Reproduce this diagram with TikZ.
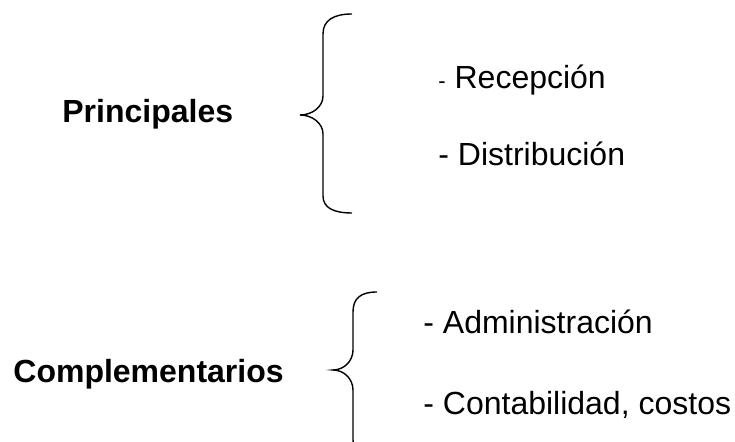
\documentclass[tikz,border=0pt]{standalone}
\usepackage{fontspec}
\setmainfont{Liberation Sans}
\usetikzlibrary{positioning}

\begin{document}
\begin{tikzpicture}[
  x=0.5pt, y=-0.5pt,
  label/.style={anchor=base west, inner sep=0pt, font=\fontsize{16}{19}\selectfont},
  title/.style={label, font=\fontsize{16}{19}\selectfont\bfseries},
  brace/.style={draw=black, line width=0.7pt},
]
  \useasboundingbox (0,0) rectangle (735,442);
  \clip (0,0) rectangle (735,442);

  % principales
  \node[title] (princ) at (62,123) {Principales};
  \node[label] (recep) at (438,89) {{\fontsize{11}{12}\selectfont -} Recepción};
  \node[label] (distr) at (438,166) {- Distribución};
  \draw[brace] (352,14) .. controls (334,14) and (323,20) .. (323,34)
    -- (323,96) .. controls (323,107) and (312,115) .. (300,115)
    .. controls (312,115) and (323,123) .. (323,134)
    -- (323,196) .. controls (323,208) and (334,213) .. (352,213);

  % complementarios
  \node[title] (compl) at (13,383) {Complementarios};
  \node[label] (admin) at (423,334) {- Administración};
  \node[label] (conta) at (423,415) {- Contabilidad, costos};
  \draw[brace] (377,292) .. controls (361,292) and (353,298) .. (353,312)
    -- (353,350) .. controls (353,361) and (344,370) .. (333,370)
    .. controls (344,370) and (353,379) .. (353,390)
    -- (353,440) .. controls (353,452) and (361,458) .. (377,458);
\end{tikzpicture}
\end{document}
